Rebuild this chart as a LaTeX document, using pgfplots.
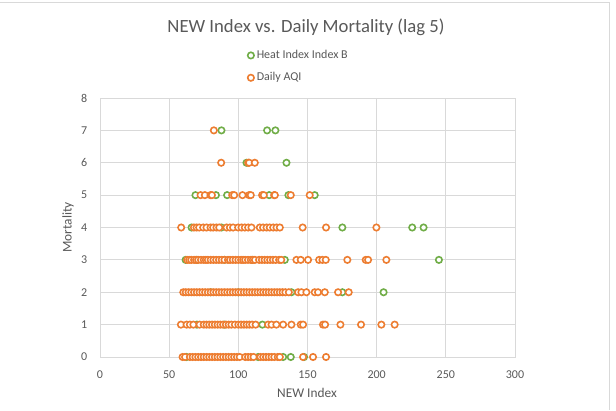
\documentclass[border=0pt]{standalone}
\usepackage{pgfplots}
\pgfplotsset{compat=1.18}
\usepackage{fontspec}
\setmainfont{Carlito}
\definecolor{cgreen}{HTML}{70AD47}
\definecolor{corange}{HTML}{ED7D31}
\definecolor{cgrid}{HTML}{D9D9D9}
\definecolor{ctext}{HTML}{595959}
\begin{document}
\begin{tikzpicture}
\useasboundingbox (0,0) rectangle (462pt,307.5pt);
\fill[white] (0,0) rectangle (462pt,307.5pt);
\draw[cgrid, line width=0.75pt] (0,305.25pt) -- (456.75pt,305.25pt) -- (456.75pt,0);
\begin{axis}[
  at={(75pt,39.75pt)}, anchor=south west,
  scale only axis, width=311.25pt, height=194.25pt,
  xmin=0, xmax=300, ymin=0, ymax=8,
  xtick={0,50,...,300}, ytick={0,1,...,8},
  grid=major, major grid style={cgrid, line width=0.75pt},
  axis line style={cgrid, line width=0.75pt},
  major tick length=0pt,
  /pgf/number format/assume math mode=true,
  ticklabel style={font=\fontsize{9}{11}\selectfont, text=ctext},
  xticklabel style={yshift=-6.5pt},
  yticklabel style={xshift=-6pt},
  legend style={at={(0.352,1.2008)}, anchor=north west, draw=none, fill=none,
    font=\fontsize{9}{11}\selectfont, text=ctext, row sep=5pt, inner sep=1pt,
    /tikz/every even column/.append style={column sep=2pt}},
  legend cell align=left,
  legend image code/.code={\draw[mark repeat=2,mark phase=2,#1] plot coordinates {(0pt,0pt)(3pt,0pt)(6pt,0pt)};},
  clip=false,
]
\addplot[only marks, mark=*, mark size=2.4pt, mark options={draw=cgreen, fill=white, line width=1.2pt}]
coordinates {
(87.8,7)(120.8,7)(126.8,7)
(105.9,6)(134.8,6)
(69.0,5)(83.8,5)(91.9,5)(122.3,5)(136.2,5)(155.2,5)
(66.2,4)(87.8,4)(175.2,4)(225.7,4)(233.9,4)
(61.9,3)(70,3)(90,3)(110,3)(133.6,3)(245,3)
(80,2)(100,2)(138.4,2)(175.2,2)(205,2)
(70,1)(90,1)(117.4,1)
(62.6,0)(114.3,0)(132.4,0)(137.9,0)(147.5,0)
};
\addlegendentry{Heat Index Index B}
\addplot[only marks, mark=*, mark size=2.4pt, mark options={draw=corange, fill=white, line width=1.2pt}]
coordinates {
(82.3,7)
(87.6,6)(107.1,6)(107.8,6)(111.9,6)
(72.7,5)(75.8,5)(79.9,5)(80.9,5)(95.6,5)(97.0,5)(103.0,5)(107.8,5)(109.0,5)(117.2,5)(118.4,5)(125.9,5)(126.4,5)(137.9,5)(151.6,5)
(58.7,4)(67.9,4)(69.8,4)(71.7,4)(74.6,4)(77.0,4)(79.9,4)(81.8,4)(84.2,4)(86.2,4)(91.5,4)(93.9,4)(96.2,4)(99.9,4)(102.3,4)(104.7,4)(107.1,4)(109.5,4)(115.5,4)(117.9,4)(120.4,4)(122.7,4)(125.2,4)(127.6,4)(130.0,4)(146.5,4)(163.4,4)(199.8,4)
(63,3)(64.5,3)(66,3)(68,3)(69.5,3)(71,3)(73,3)(75,3)(76.5,3)(78,3)(80,3)(82,3)(84,3)(86,3)(88,3)(90,3)(92.5,3)(94,3)(96,3)(98,3)(100,3)(102,3)(103.5,3)(105,3)(107,3)(109,3)(110.5,3)(112,3)(115,3)(117,3)(119,3)(121,3)(123,3)(125,3)(127,3)(129.5,3)(131,3)(142,3)(145.1,3)(150.4,3)(158.4,3)(160.8,3)(163.2,3)(178.8,3)(192.1,3)(193.8,3)(207,3)
(60.2,2)(62,2)(64,2)(66,2)(68,2)(70,2)(72,2)(74,2)(76,2)(78,2)(80,2)(82,2)(84,2)(86,2)(88,2)(90,2)(92,2)(94,2)(96,2)(98,2)(100,2)(102,2)(104,2)(106,2)(108,2)(110,2)(112,2)(114,2)(116,2)(118,2)(120,2)(122,2)(124,2)(126,2)(128,2)(130,2)(132,2)(134,2)(136.5,2)(143.2,2)(145.6,2)(149.2,2)(155.2,2)(157.6,2)(162.5,2)(172.1,2)(179.8,2)
(58.5,1)(62.6,1)(65,1)(67.5,1)(72,1)(75,1)(77,1)(79,1)(81,1)(83,1)(85,1)(87,1)(89,1)(91,1)(93,1)(95,1)(97.5,1)(100,1)(102,1)(104,1)(106,1)(108,1)(110,1)(112.5,1)(121.5,1)(124,1)(127.5,1)(132.4,1)(138.4,1)(145.1,1)(146.8,1)(161.2,1)(162.7,1)(173.8,1)(188.7,1)(203.4,1)(213,1)
(59.7,0)(61.5,0)(65,0)(67,0)(69,0)(71,0)(73,0)(75,0)(77,0)(79,0)(81,0)(83,0)(85,0)(87,0)(89,0)(91,0)(93,0)(95,0)(97,0)(99,0)(101,0)(105,0)(107,0)(109,0)(111,0)(116,0)(118,0)(120,0)(122,0)(124,0)(126,0)(128.5,0)(130,0)(146.8,0)(154,0)(163.4,0)
};
\addlegendentry{Daily AQI}
\end{axis}
\node[text=ctext, font=\fontsize{14}{17}\selectfont] at (229.5pt,287.25pt) {NEW Index vs. Daily Mortality (lag 5)};
\node[text=ctext, font=\fontsize{10}{12}\selectfont] at (230.25pt,12.75pt) {NEW Index};
\node[text=ctext, font=\fontsize{10}{12}\selectfont, rotate=90] at (51pt,136.9pt) {Mortality};
\end{tikzpicture}
\end{document}
